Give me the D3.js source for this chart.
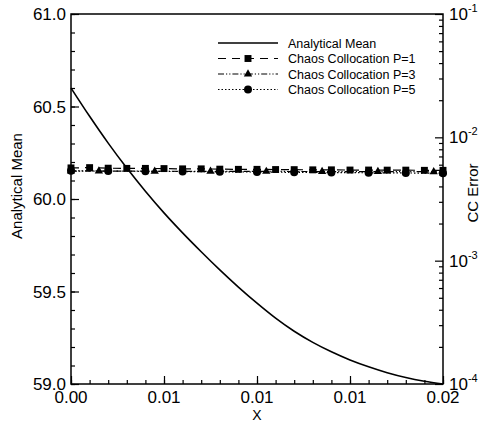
<!DOCTYPE html>
<html>
<head>
<meta charset="utf-8">
<script src="https://cdn.jsdelivr.net/npm/d3@7"></script>
<style>
  body { margin: 0; background: #fff; }
  svg { display: block; font-family: "Liberation Sans", Arial, sans-serif; }
</style>
</head>
<body>
<div class="svg-container"></div>
<script>
// x positions of the analytical mean and P=1 samples
var xVals = [0, 0.001, 0.002, 0.003, 0.004, 0.005, 0.006, 0.007, 0.008, 0.009, 0.010,
             0.011, 0.012, 0.013, 0.014, 0.015, 0.016, 0.017, 0.018, 0.019, 0.020];
var meanVals = [60.600, 60.447, 60.302, 60.167, 60.042, 59.925, 59.817, 59.715, 59.617, 59.524, 59.437,
                59.356, 59.285, 59.225, 59.174, 59.130, 59.093, 59.061, 59.035, 59.015, 59.000];
var p1Err = [5.65e-3, 5.68e-3, 5.62e-3, 5.60e-3, 5.60e-3, 5.58e-3, 5.55e-3, 5.55e-3, 5.52e-3, 5.50e-3, 5.50e-3,
             5.48e-3, 5.47e-3, 5.45e-3, 5.45e-3, 5.43e-3, 5.43e-3, 5.42e-3, 5.42e-3, 5.40e-3, 5.40e-3];
var p3X = [0, 0.0015, 0.0045, 0.0075, 0.0105, 0.0135, 0.0165, 0.0195, 0.020];
var p3Err = [5.33e-3, 5.32e-3, 5.31e-3, 5.30e-3, 5.29e-3, 5.28e-3, 5.27e-3, 5.26e-3, 5.25e-3];
var p5X = [0, 0.002, 0.004, 0.006, 0.008, 0.010, 0.012, 0.014, 0.016, 0.018, 0.020];
var p5Err = [5.35e-3, 5.33e-3, 5.30e-3, 5.28e-3, 5.25e-3, 5.23e-3, 5.20e-3, 5.18e-3, 5.16e-3, 5.14e-3, 5.12e-3];

var xTicks = [0, 0.005, 0.01, 0.015, 0.02];
var yTicks = [59.0, 59.5, 60.0, 60.5, 61.0];
var errTicks = [1e-4, 1e-3, 1e-2, 1e-1];
var legendNames = ["Analytical Mean", "Chaos Collocation P=1", "Chaos Collocation P=3", "Chaos Collocation P=5"];

var width = 480, height = 425;
var pL = 71, pR = 443, pT = 14, pB = 384;

var svg = d3.select(".svg-container").append("svg")
    .attr("width", width)
    .attr("height", height);

var x = d3.scaleLinear().domain([0, 0.02]).range([pL, pR]);
var y = d3.scaleLinear().domain([59, 61]).range([pB, pT]);
var yErr = d3.scaleLog().domain([1e-4, 1e-1]).range([pB, pT]);

// minor ticks
var xMinor = d3.range(0, 21).map(function(i) { return i * 0.001; });
var yMinor = d3.range(0, 21).map(function(i) { return 59 + i * 0.1; });
var errMinor = [];
[1e-4, 1e-3, 1e-2].forEach(function(d) {
    for (var k = 2; k <= 9; k++) errMinor.push(d * k);
});

function noDomain(g) { g.select(".domain").remove(); }

// bottom axis
svg.append("g")
    .attr("transform", "translate(0," + pB + ")")
    .call(d3.axisTop(x).tickValues(xMinor).tickSize(4).tickFormat(""))
    .call(noDomain);
svg.append("g")
    .attr("transform", "translate(0," + pB + ")")
    .call(d3.axisTop(x).tickValues(xTicks).tickSize(8).tickFormat(""))
    .call(noDomain);
svg.selectAll(".xlab").data(xTicks).enter().append("text")
    .attr("x", function(d) { return x(d); })
    .attr("y", pB + 19)
    .attr("text-anchor", "middle")
    .style("font-size", "17px")
    .text(function(d) { return d3.format(".2f")(d); });

// left axis
svg.append("g")
    .attr("transform", "translate(" + pL + ",0)")
    .call(d3.axisRight(y).tickValues(yMinor).tickSize(4).tickFormat(""))
    .call(noDomain);
svg.append("g")
    .attr("transform", "translate(" + pL + ",0)")
    .call(d3.axisRight(y).tickValues(yTicks).tickSize(8).tickFormat(""))
    .call(noDomain);
svg.selectAll(".ylab").data(yTicks).enter().append("text")
    .attr("x", pL - 5)
    .attr("y", function(d) { return y(d) + 6; })
    .attr("text-anchor", "end")
    .style("font-size", "17px")
    .text(function(d) { return d3.format(".1f")(d); });

// right axis (log)
svg.append("g")
    .attr("transform", "translate(" + pR + ",0)")
    .call(d3.axisLeft(yErr).tickValues(errMinor).tickSize(4).tickFormat(""))
    .call(noDomain);
svg.append("g")
    .attr("transform", "translate(" + pR + ",0)")
    .call(d3.axisLeft(yErr).tickValues(errTicks).tickSize(8).tickFormat(""))
    .call(noDomain);
var rl = svg.selectAll(".rlab").data(errTicks).enter().append("text")
    .attr("x", pR + 6)
    .attr("y", function(d) { return yErr(d) + 6; })
    .style("font-size", "17px");
rl.append("tspan").text("10");
rl.append("tspan")
    .attr("dy", -8)
    .style("font-size", "11px")
    .text(function(d) { return Math.round(Math.log10(d)); });

svg.selectAll(".tick line").attr("stroke", "#000").attr("stroke-width", 1.2);

// frame
svg.append("rect")
    .attr("x", pL).attr("y", pT)
    .attr("width", pR - pL).attr("height", pB - pT)
    .attr("fill", "none").attr("stroke", "#000").attr("stroke-width", 1.5);

// axis titles
svg.append("text")
    .attr("x", (pL + pR) / 2)
    .attr("y", 420)
    .attr("text-anchor", "middle")
    .style("font-size", "14px")
    .text("X");
svg.append("text")
    .attr("transform", "translate(22,186) rotate(-90)")
    .attr("text-anchor", "middle")
    .style("font-size", "15px")
    .text("Analytical Mean");
svg.append("text")
    .attr("transform", "translate(478,193) rotate(-90)")
    .attr("text-anchor", "middle")
    .style("font-size", "15px")
    .text("CC Error");

// series
var meanLine = d3.line()
    .x(function(d, i) { return x(xVals[i]); })
    .y(function(d) { return y(d); })
    .curve(d3.curveMonotoneX);
svg.append("path").datum(meanVals)
    .attr("d", meanLine)
    .attr("fill", "none").attr("stroke", "#000").attr("stroke-width", 1.6);

var styles = [
    { xs: xVals, vals: p1Err, dash: "8,6", sym: d3.symbolSquare, size: 48 },
    { xs: p3X, vals: p3Err, dash: "6,2,1.2,2,1.2,2", sym: d3.symbolTriangle, size: 30 },
    { xs: p5X, vals: p5Err, dash: "1.5,2", sym: d3.symbolCircle, size: 50 }
];

styles.forEach(function(s) {
    var pts = s.vals.map(function(v, i) { return [x(s.xs[i]), yErr(v)]; });
    svg.append("path").datum(pts)
        .attr("d", d3.line())
        .attr("fill", "none").attr("stroke", "#000").attr("stroke-width", 1.2)
        .attr("stroke-dasharray", s.dash);
    svg.selectAll(null).data(pts).enter().append("path")
        .attr("transform", function(d) { return "translate(" + d[0] + "," + d[1] + ")"; })
        .attr("d", d3.symbol().type(s.sym).size(s.size))
        .attr("fill", "#000");
});

// legend
var legX0 = 218, legX1 = 278, legY = 43, legStep = 15.5;
var legStyles = [{ dash: null, sym: null }].concat(styles);
legendNames.forEach(function(name, i) {
    var ly = legY + i * legStep;
    var s = legStyles[i];
    svg.append("line")
        .attr("x1", legX0).attr("x2", legX1)
        .attr("y1", ly).attr("y2", ly)
        .attr("stroke", "#000")
        .attr("stroke-width", i === 0 ? 1.6 : 1.2)
        .attr("stroke-dasharray", s.dash);
    if (s.sym) {
        svg.append("path")
            .attr("transform", "translate(" + (legX0 + legX1) / 2 + "," + ly + ")")
            .attr("d", d3.symbol().type(s.sym).size(s.size))
            .attr("fill", "#000");
    }
    svg.append("text")
        .attr("x", 288)
        .attr("y", ly + 4.5)
        .style("font-size", "12.5px")
        .text(name);
});
</script>
</body>
</html>
